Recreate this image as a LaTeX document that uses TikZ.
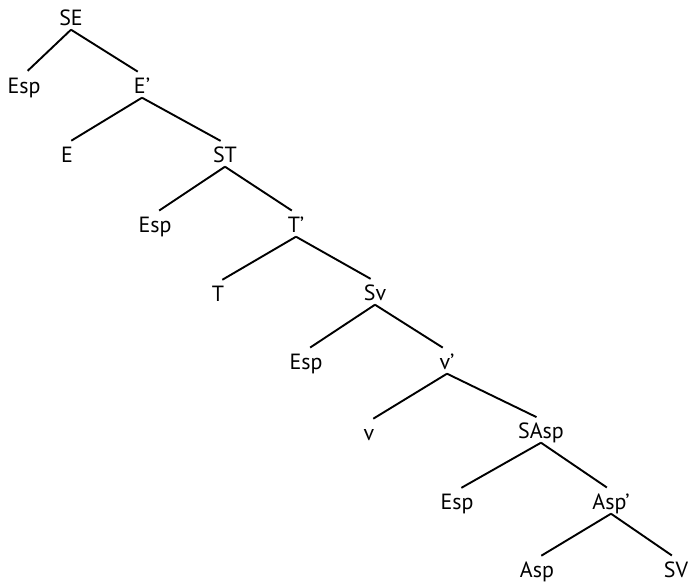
\documentclass[tikz,border=0pt]{standalone}
\usepackage{fontspec}
\setmainfont{PT Sans}
\usepackage{tikz}
\usetikzlibrary{positioning}

\begin{document}
\begin{tikzpicture}[x=1pt,y=-1pt,
        lbl/.style={inner xsep=0pt, inner ysep=4pt, text height=15pt, text depth=0pt, font=\fontsize{22}{24}\selectfont},
        branch/.style={line width=1.9pt, shorten >=5pt}]
        \useasboundingbox (0,0) rectangle (690,584);
        % Nodes
        \node (se) [lbl] at (71,18) {SE};
        \node (esp1) [lbl] at (24,86) {Esp};
        \node (e1) [lbl] at (142,86) {E’};
        \node (e0) [lbl] at (67,155) {E};
        \node (st) [lbl] at (225,155) {ST};
        \node (esp2) [lbl] at (155,225) {Esp};
        \node (t1) [lbl] at (296,225) {T’};
        \node (t0) [lbl] at (218,294) {T};
        \node (sv1) [lbl] at (375,293) {Sv};
        \node (esp3) [lbl] at (306,362) {Esp};
        \node (v1) [lbl] at (447,362) {v’};
        \node (v0) [lbl] at (369,433) {v};
        \node (sasp) [lbl] at (541,431) {SAsp};
        \node (esp4) [lbl] at (457,502) {Esp};
        \node (asp1) [lbl] at (611,502) {Asp’};
        \node (asp0) [lbl] at (537,570) {Asp};
        \node (sv2) [lbl] at (676,570) {SV};

        % Branches
        \draw[branch] (se.south) -- (esp1.north);
        \draw[branch] (se.south) -- (e1.north);
        \draw[branch] (e1.south) -- (e0.north);
        \draw[branch] (e1.south) -- (st.north);
        \draw[branch] (st.south) -- (esp2.north);
        \draw[branch] (st.south) -- (t1.north);
        \draw[branch] (t1.south) -- (t0.north);
        \draw[branch] (t1.south) -- (sv1.north);
        \draw[branch] (sv1.south) -- (esp3.north);
        \draw[branch] (sv1.south) -- (v1.north);
        \draw[branch] (v1.south) -- (v0.north);
        \draw[branch] (v1.south) -- (sasp.north);
        \draw[branch] (sasp.south) -- (esp4.north);
        \draw[branch] (sasp.south) -- (asp1.north);
        \draw[branch] (asp1.south) -- (asp0.north);
        \draw[branch] (asp1.south) -- (sv2.north);
    \end{tikzpicture}
\end{document}
